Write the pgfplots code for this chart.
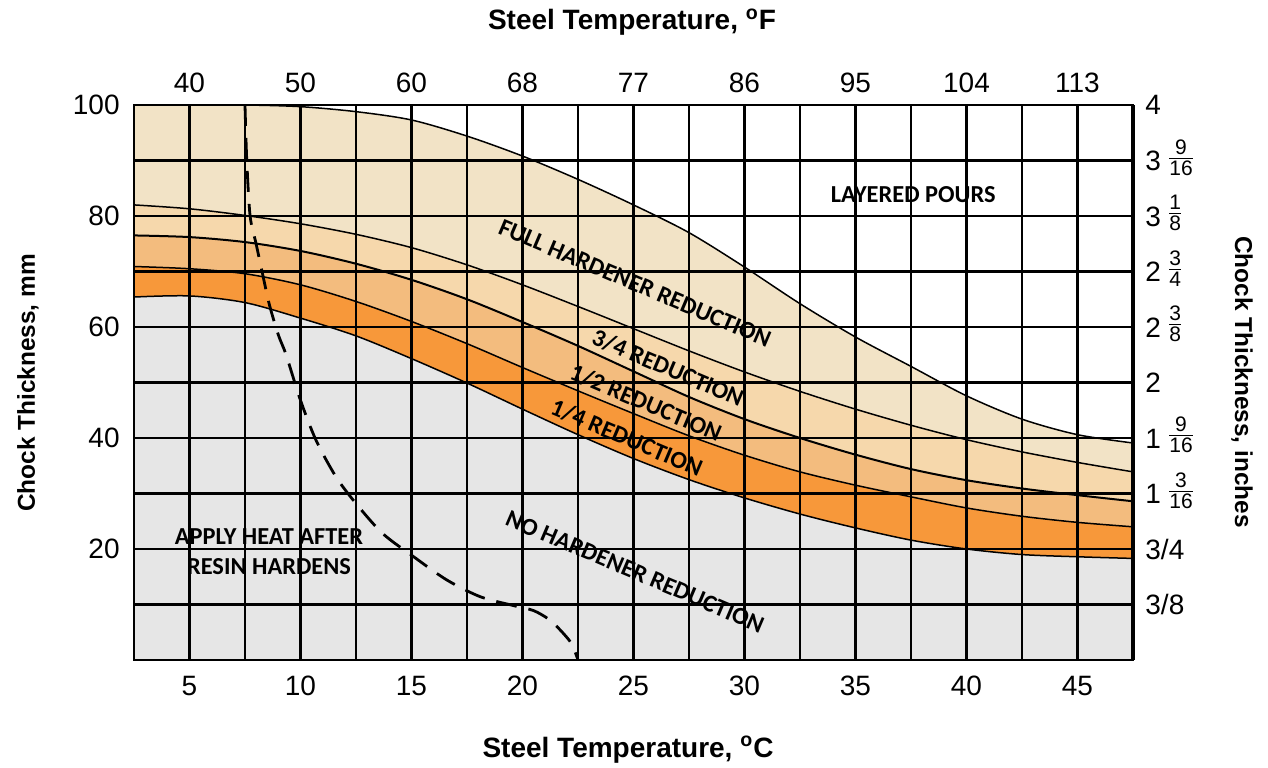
\documentclass[border=0pt]{standalone}
\usepackage{fontspec}
\setmainfont{Liberation Sans}
\newfontfamily\calfont{Carlito}
\usepackage{pgfplots}
\usepackage{pgfplotstable}
\pgfplotsset{compat=1.18}

\definecolor{fullbeige}{HTML}{F2E3C6}
\definecolor{threeq}{HTML}{F6D8AC}
\definecolor{half}{HTML}{F3BC7E}
\definecolor{quarter}{HTML}{F7983A}
\definecolor{nored}{HTML}{E6E6E6}

% mixed fraction for the inch scale
\newcommand\fr[2]{\hspace{3pt}\raisebox{2.5pt}{\ensuremath{\frac{\hbox{\fontsize{10.5}{10.5}\selectfont #1}}{\hbox{\fontsize{10.5}{10.5}\selectfont #2}}}}}
\newcommand\notefont{\calfont\bfseries\fontsize{12.2}{15}\selectfont}

% band boundaries, steel temperature (C) vs chock thickness (mm)
\pgfplotstableread{
x     F      E     D     B     A
2.5   100.0  82.0  76.5  70.9  65.4
5     100.0  81.3  76.2  70.5  65.6
7.5   100.0  80.1  75.3  69.6  64.4
10    99.7   78.6  73.7  67.6  61.6
12.5  98.8   76.7  71.4  64.6  58.4
15    97.3   74.3  68.5  61.0  54.3
17.5  94.4   71.2  65.0  57.0  49.9
20    90.8   67.6  60.9  52.7  45.2
22.5  86.6   63.7  56.6  48.5  40.6
25    82.0   59.7  52.0  44.4  36.3
27.5  77.0   55.7  47.4  40.4  32.5
30    70.8   51.9  43.4  36.9  29.2
32.5  64.2   48.4  40.0  33.9  26.3
35    58.2   45.2  37.0  31.5  23.8
37.5  52.9   42.3  34.4  29.4  21.6
40    47.6   39.7  32.4  27.4  20.0
42.5  43.4   37.5  30.9  25.9  19.0
45    40.6   35.6  29.7  24.8  18.6
47.5  39.1   33.9  28.6  24.0  18.3
}\curves

% apply heat after resin hardens
\pgfplotstableread{
x     y
7.5   100
7.58  90
7.73  80
8.0   75
8.3   69.4
8.6   64
9.0   58.6
9.35  55
10.0  46.8
10.7  39.6
11.6  33
12.5  28.2
13.7  22.8
15.1  18.6
16.6  14.4
18.1  11.4
19.6  9.8
20.5  8.9
21.2  7.3
21.7  5.4
22.2  3
22.5  0
}\heat

\begin{document}
\begin{tikzpicture}
\useasboundingbox (-67pt,-53.5pt) rectangle (567pt,330pt);

\begin{axis}[
    at={(0,0)}, anchor=south west,
    width=499.5pt, height=277.5pt, scale only axis,
    xmin=2.5, xmax=47.5, ymin=0, ymax=100,
    axis on top,
    xtick={5,10,...,45}, xticklabels={5,10,15,20,25,30,35,40,45},
    ytick={20,40,...,100}, yticklabels={20,40,60,80,100},
    minor xtick={2.5,7.5,...,47.5}, minor ytick={10,30,...,90},
    grid=both,
    major grid style={black, line width=1.05pt},
    minor grid style={black, line width=1.05pt},
    major tick length=0pt, minor tick length=0pt,
    axis line style={black, line width=1.1pt},
    tick label style={font=\fontsize{14}{16}\selectfont},
    xticklabel style={anchor=base, inner sep=0pt, yshift=-17.5pt},
    yticklabel style={anchor=east, inner sep=0pt, xshift=-7pt},
]
% bands, painted from the top one down
\addplot[draw=none, fill=fullbeige, smooth] table[x=x, y=F]{\curves} \closedcycle;
\addplot[draw=none, fill=threeq, smooth] table[x=x, y=E]{\curves} \closedcycle;
\addplot[draw=none, fill=half, smooth] table[x=x, y=D]{\curves} \closedcycle;
\addplot[draw=none, fill=quarter, smooth] table[x=x, y=B]{\curves} \closedcycle;
\addplot[draw=none, fill=nored, smooth] table[x=x, y=A]{\curves} \closedcycle;

\addplot[black, line width=0.75pt, smooth] table[x=x, y=F]{\curves};
\addplot[black, line width=0.75pt, smooth] table[x=x, y=E]{\curves};
\addplot[black, line width=1pt, smooth] table[x=x, y=D]{\curves};
\addplot[black, line width=0.75pt, smooth] table[x=x, y=B]{\curves};
\addplot[black, line width=0.75pt, smooth] table[x=x, y=A]{\curves};

\addplot[black, line width=1.4pt, smooth, dash pattern=on 10.5pt off 6pt] table[x=x, y=y]{\heat};

\node[font=\notefont] at (axis cs:37.6,83.8) {LAYERED POURS};
\node[font=\notefont, rotate=-23] at (axis cs:25.07,67.9) {FULL HARDENER REDUCTION};
\node[font=\notefont, rotate=-23] at (axis cs:26.55,52.6) {3/4 REDUCTION};
\node[font=\notefont, rotate=-23] at (axis cs:25.56,46.3) {1/2 REDUCTION};
\node[font=\notefont, rotate=-23] at (axis cs:24.7,40.0) {1/4 REDUCTION};
\node[font=\notefont, rotate=-23] at (axis cs:25.07,15.9) {NO HARDENER REDUCTION};
\node[font=\notefont, align=center] at (axis cs:8.58,19.5) {APPLY HEAT AFTER\\RESIN HARDENS};
\end{axis}

% Fahrenheit and inch scales
\begin{axis}[
    at={(0,0)}, anchor=south west,
    width=499.5pt, height=277.5pt, scale only axis,
    xmin=2.5, xmax=47.5, ymin=0, ymax=100,
    axis x line*=top, axis y line*=right,
    x axis line style={-, black, line width=1.1pt},
    y axis line style={-, black, line width=2pt},
    xtick={5,10,...,45}, xticklabels={40,50,60,68,77,86,95,104,113},
    ytick={10,20,...,100},
    yticklabels={3/8, 3/4, {1\fr{3}{16}}, {1\fr{9}{16}}, 2, {2\fr{3}{8}}, {2\fr{3}{4}}, {3\fr{1}{8}}, {3\fr{9}{16}}, 4},
    major tick length=0pt,
    tick label style={font=\fontsize{14}{16}\selectfont},
    xticklabel style={anchor=base, inner sep=0pt, yshift=6pt},
    yticklabel style={anchor=base west, inner sep=0pt, xshift=6pt, yshift=-5pt},
]
\end{axis}

\node[font=\bfseries\fontsize{14}{16}\selectfont, anchor=base] at (249pt,315pt) {Steel Temperature, \textsuperscript{o}F};
\node[font=\bfseries\fontsize{14}{16}\selectfont, anchor=base] at (247pt,-48.5pt) {Steel Temperature, \textsuperscript{o}C};
\node[font=\bfseries\fontsize{12.2}{14}\selectfont, anchor=base, rotate=90] at (-49.5pt,138.5pt) {Chock Thickness, mm};
\node[font=\bfseries\fontsize{12.2}{14}\selectfont, anchor=base, rotate=-90] at (550.5pt,139pt) {Chock Thickness, inches};
\end{tikzpicture}
\end{document}
